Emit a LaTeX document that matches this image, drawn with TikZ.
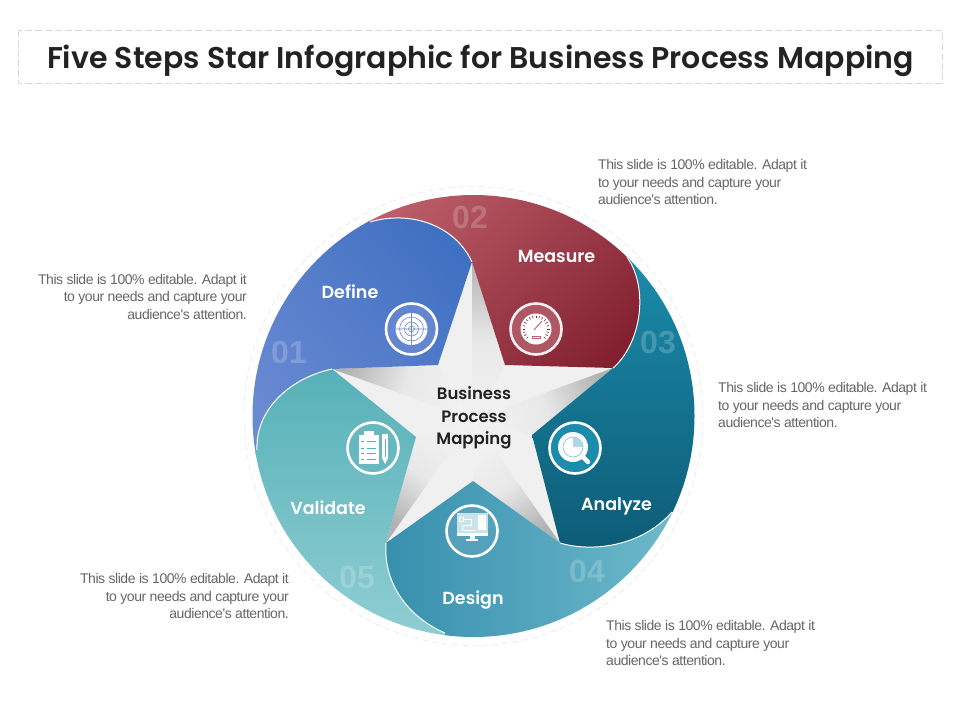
\documentclass[tikz,border=0pt]{standalone}
\usepackage{fontspec}
\setmainfont{Liberation Sans}
\newfontfamily\gothic{Poppins SemiBold}
\newfontfamily\blurbfont[LetterSpace=-3.2]{Liberation Sans}
\definecolor{redtop}{HTML}{BE606C}
\definecolor{redlow}{HTML}{82202F}
\definecolor{bluetop}{HTML}{4070C2}
\definecolor{bluelow}{HTML}{6A8AD2}
\definecolor{tealtop}{HTML}{57B1B8}
\definecolor{teallow}{HTML}{94D0D5}
\definecolor{designleft}{HTML}{378FAE}
\definecolor{designright}{HTML}{72BDCD}
\definecolor{analyzetop}{HTML}{1B8CAB}
\definecolor{analyzelow}{HTML}{0D5B76}
\definecolor{blurbgray}{HTML}{666666}
\definecolor{titlegray}{HTML}{222222}
\tikzset{
	blurb/.style={text=blurbgray,inner sep=0pt,font=\blurbfont\fontsize{14}{17.5}\selectfont},
	steplabel/.style={text=white,inner sep=0pt,font=\gothic\fontsize{17.5}{20}\selectfont},
	stepnumber/.style={text=white,text opacity=0.2,inner sep=0pt,font=\bfseries\fontsize{32}{34}\selectfont},
	iconring/.style={circle,draw=white,line width=2.6pt,minimum size=51pt,inner sep=0pt},
	facet/.style={top color=black!30,bottom color=black!5,middle color=black!9},
	edgeline/.style={draw=white,line width=1pt}
}
\begin{document}
\begin{tikzpicture}[x=1pt,y=-1pt]
	\useasboundingbox (0,0) rectangle (960,720);
	\fill[white] (0,0) rectangle (960,720);
	% title
	\draw[black!15,dashed,dash pattern=on 7pt off 3pt] (18,30) rectangle (942,83);
	\node[text=titlegray,inner sep=0pt,font=\gothic\fontsize{30}{32}\selectfont] (title) at (480.5,60.5) {Five Steps Star Infographic for Business Process Mapping};
	% dashed ring
	\coordinate (wheel) at (473.5,416);
	\draw[black!13,dashed,dash pattern=on 6pt off 4pt] (wheel) circle (229.5pt);
	% star corners
	\coordinate (tipup) at (472,262);
	\coordinate (tipleft) at (332,369);
	\coordinate (tipright) at (613,368);
	\coordinate (tiplowl) at (386,543);
	\coordinate (tiplowr) at (560,543);
	\coordinate (inup) at (438,365);
	\coordinate (inupr) at (505,365);
	\coordinate (inright) at (532,435);
	\coordinate (inlow) at (473,481);
	\coordinate (inleft) at (416,437);
	\coordinate (mid) at (473,419);
	\fill[black!6] (tipup)--(inupr)--(tipright)--(inright)--(tiplowr)--(inlow)--(tiplowl)--(inleft)--(tipleft)--(inup)--cycle;
	\shade[facet,shading angle=72] (tipleft)--(inup)--(mid)--cycle;
	\shade[facet] (tipup)--(inupr)--(mid)--cycle;
	\shade[facet,shading angle=-72] (tipright)--(inright)--(mid)--cycle;
	\shade[facet,shading angle=-144] (tiplowr)--(inlow)--(mid)--cycle;
	\shade[facet,shading angle=144] (tiplowl)--(inleft)--(mid)--cycle;
	% five petals
	\begin{scope}
		\clip (wheel) circle (221pt);
		\shade[top color=analyzetop,bottom color=analyzelow] (tipright)--(inright)--(tiplowr) .. controls (590,552) and (640,548) .. (672,512)--(720,520)--(720,250)--(627,257)--cycle;
		\shade[top color=redtop,bottom color=redlow,shading angle=45] (inupr)--(tipright) .. controls (640,345) and (650,290) .. (627,257)--(680,250)--(680,170)--(340,170)--(340,222)--(370,222)--(tipup)--cycle;
		\shade[top color=bluelow,bottom color=bluetop,shading angle=130] (tipup) .. controls (455,225) and (410,210) .. (370,222)--(340,190)--(230,190)--(230,455)--(257,455)--(tipleft)--(inup)--cycle;
		\shade[top color=tealtop,bottom color=teallow] (tipleft)--(inleft)--(tiplowl)--(445,633)--(445,660)--(230,660)--(230,450)--(257,450) .. controls (255,410) and (290,378) .. (tipleft);
		\shade[left color=designleft,right color=designright] (inlow)--(tiplowr) .. controls (590,552) and (640,548) .. (672,512)--(700,660)--(445,660)--(445,633) .. controls (410,618) and (383,585) .. (tiplowl)--cycle;
		\draw[edgeline] (tipup) .. controls (455,225) and (410,210) .. (370,222);
		\draw[edgeline] (tipright) .. controls (640,345) and (650,290) .. (627,257);
		\draw[edgeline] (tiplowr) .. controls (590,552) and (640,548) .. (672,512);
		\draw[edgeline] (445,633) .. controls (410,618) and (383,585) .. (tiplowl);
		\draw[edgeline] (257,450) .. controls (255,410) and (290,378) .. (tipleft);
	\end{scope}
	% numbers
	\node[stepnumber] (numone) at (289,352) {01};
	\node[stepnumber] (numtwo) at (470,217) {02};
	\node[stepnumber] (numthree) at (658,343) {03};
	\node[stepnumber] (numfour) at (587,571) {04};
	\node[stepnumber] (numfive) at (357,577) {05};
	% labels
	\node[steplabel] (define) at (350,292) {Define};
	\node[steplabel] (measure) at (556.5,256.5) {Measure};
	\node[steplabel] (analyze) at (616.5,506) {Analyze};
	\node[steplabel] (design) at (473,600) {Design};
	\node[steplabel] (validate) at (328,508) {Validate};
	\node[text=titlegray,inner sep=0pt,align=center,font=\gothic\fontsize{16.5}{22.5}\selectfont] (hub) at (474,418) {Business\\Process\\Mapping};
	% define icon
	\node[iconring,fill=bluelow!85!bluetop] (iconone) at (411.5,329) {};
	\begin{scope}[shift={(iconone)}]
		\fill[white] (0,0) circle (16pt);
		\draw[bluelow,line width=0.6pt] (0,0) circle (12pt) (0,0) circle (7pt) (0,0) circle (3pt) (-16,0)--(16,0) (0,-16)--(0,16);
	\end{scope}
	% measure icon
	\node[iconring,draw=white!90!redtop,fill=redtop!92!black] (icontwo) at (536,329) {};
	\begin{scope}[shift={(icontwo)}]
		\fill[white] (0,0) circle (15.5pt);
		\foreach \a in {-45,-30,...,225}
			\draw[redlow,line width=0.6pt] (\a:13.5pt)--(\a:11pt);
		\draw[redtop,line width=0.9pt] (-2,1)--(6,-8);
		\draw[redtop,line width=0.6pt] (-4,7) rectangle (4,9.5);
	\end{scope}
	% analyze icon
	\node[iconring,fill=analyzetop] (iconthree) at (575,448) {};
	\begin{scope}[shift={(iconthree)}]
		\draw[white,line width=4.5pt,line cap=round] (8,9)--(13,14);
		\fill[white] (-2,-1) circle (15pt);
		\draw[analyzetop!55,line width=0.6pt] (-2,-1) circle (10pt);
		\fill[analyzetop!35] (-2,-1)--(-2,-11) arc (90:0:10pt)--cycle;
	\end{scope}
	% design icon
	\node[iconring,fill=designleft!85!white] (iconfour) at (472,531) {};
	\begin{scope}[shift={(iconfour)}]
		\fill[white!60!designright] (-15,-18) rectangle (16,2);
		\fill[white] (-15,2) rectangle (16,5);
		\fill[white] (-2,5) rectangle (3,8);
		\fill[white] (-6,8) rectangle (6,10);
		\fill[white] (6,-16) rectangle (14,-1);
		\draw[white,line width=1pt] (-13,-14) rectangle (-9,-10) (-9,-12)--(-1,-12)--(-1,-6)--(-10,-6)--(-10,-1)--(3,-1);
	\end{scope}
	% validate icon
	\node[iconring,fill=tealtop!90!white] (iconfive) at (373,448) {};
	\begin{scope}[shift={(iconfive)}]
		\fill[white] (-14,-13) rectangle (6,16);
		\fill[white] (-9,-17) rectangle (1,-12);
		\foreach \y in {-7,0,5,11}
			\draw[tealtop,line width=0.9pt] (-6,\y)--(3,\y) (-12,\y)--(-9,\y);
		\fill[white] (9,-14) rectangle (15,10);
		\fill[white] (9,10)--(15,10)--(12,16)--cycle;
		\draw[tealtop,line width=0.7pt] (12,-9)--(12,9);
	\end{scope}
	% side texts
	\node[blurb,anchor=west,align=left] (noteone) at (598,182) {This slide is 100\% editable. Adapt it\\to your needs and capture your\\audience's attention.};
	\node[blurb,anchor=east,align=right] (notetwo) at (247,296.5) {This slide is 100\% editable. Adapt it\\to your needs and capture your\\audience's attention.};
	\node[blurb,anchor=west,align=left] (notethree) at (718,405) {This slide is 100\% editable. Adapt it\\to your needs and capture your\\audience's attention.};
	\node[blurb,anchor=west,align=left] (notefour) at (606,643) {This slide is 100\% editable. Adapt it\\to your needs and capture your\\audience's attention.};
	\node[blurb,anchor=east,align=right] (notefive) at (289,596) {This slide is 100\% editable. Adapt it\\to your needs and capture your\\audience's attention.};
\end{tikzpicture}
\end{document}
